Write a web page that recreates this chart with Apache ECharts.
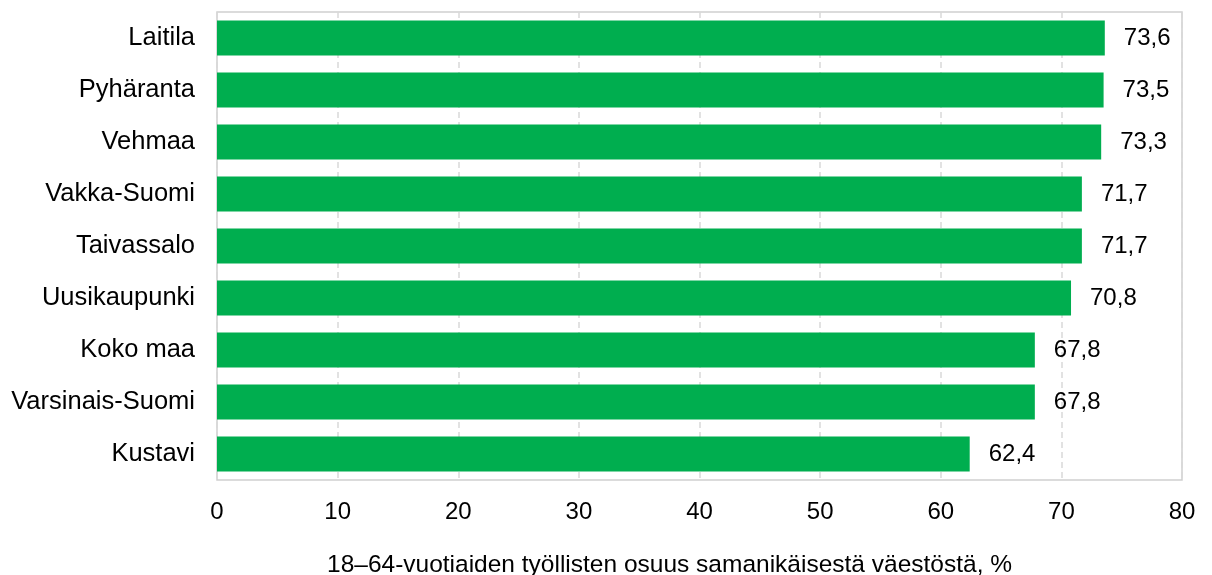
<!DOCTYPE html>
<html>
<head>
<meta charset="utf-8">
<script src="https://cdn.jsdelivr.net/npm/echarts@6/dist/echarts.min.js"></script>
<style>
  html, body { margin: 0; padding: 0; background: #fff; }
  #chart { width: 1212px; height: 575px; }
</style>
</head>
<body>
<div id="chart"></div>
<script>
  // top to bottom as in the picture
  const areas = ["Laitila", "Pyhäranta", "Vehmaa", "Vakka-Suomi", "Taivassalo",
    "Uusikaupunki", "Koko maa", "Varsinais-Suomi", "Kustavi"]
  const shares = [73.6, 73.5, 73.3, 71.7, 71.7, 70.8, 67.8, 67.8, 62.4]
  const axisTitle = "18–64-vuotiaiden työllisten osuus samanikäisestä väestöstä, %"

  const font = "Liberation Sans, Arial, sans-serif"

  const options = {
    animation: false,
    grid: {
      left: 217,
      right: 30,
      top: 12,
      bottom: 95,
      show: true,
      borderColor: "#cfcfcf",
      borderWidth: 1.5,
    },
    xAxis: {
      type: "value",
      min: 0,
      max: 80,
      interval: 10,
      axisLine: { show: false },
      axisTick: { show: false },
      axisLabel: {
        color: "#000",
        fontFamily: font,
        fontSize: 24,
        margin: 20,
      },
      splitLine: {
        show: true,
        lineStyle: { color: "#d9d9d9", type: [6, 4], width: 1.5 },
      },
    },
    yAxis: {
      type: "category",
      inverse: true,
      data: areas,
      axisLine: { show: false },
      axisTick: { show: false },
      axisLabel: {
        color: "#000",
        fontFamily: font,
        fontSize: 25.5,
        margin: 22,
      },
    },
    series: [
      {
        type: "bar",
        data: shares,
        barCategoryGap: "33%",
        itemStyle: { color: "#00ae4f" },
        label: {
          show: true,
          position: "right",
          distance: 19,
          color: "#000",
          fontFamily: font,
          fontSize: 24,
          formatter: (p) => p.value.toFixed(1).replace(".", ","),
        },
      },
    ],
    graphic: [
      {
        type: "text",
        left: 327,
        top: 553,
        style: {
          text: axisTitle,
          fill: "#000",
          font: "24.5px " + font,
        },
      },
    ],
  }

  let myChart = echarts.init(document.getElementById("chart"))
  myChart.setOption(options)
</script>
</body>
</html>
